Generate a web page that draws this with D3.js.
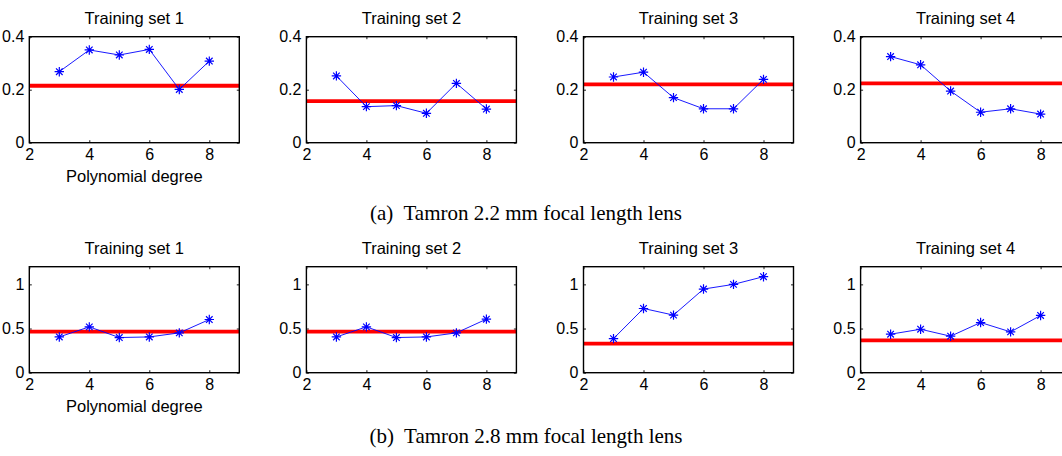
<!DOCTYPE html>
<html>
<head>
<meta charset="utf-8">
<script src="https://cdn.jsdelivr.net/npm/d3@7"></script>
<style>
  body { margin: 0; background: #fff; }
  svg { display: block; }
  .title, .tick text, .xlabel { font-family: "Liberation Sans", Arial, sans-serif; fill: #000; }
  .caption { font-family: "Liberation Serif", "Times New Roman", serif; fill: #000; }
</style>
</head>
<body>
<svg id="chart"></svg>
<script>
var width = 1062;
var height = 456;

// polynomial degrees on the x axis
var degrees = [3, 4, 5, 6, 7, 8];
var xTicks = [2, 4, 6, 8];
var setTitles = ["Training set 1", "Training set 2", "Training set 3", "Training set 4"];

// (a) Tamron 2.2 mm
var lens22Set1 = [0.268, 0.350, 0.331, 0.352, 0.201, 0.308];
var lens22Set2 = [0.252, 0.136, 0.140, 0.111, 0.224, 0.127];
var lens22Set3 = [0.248, 0.266, 0.170, 0.128, 0.128, 0.239];
var lens22Set4 = [0.325, 0.294, 0.195, 0.115, 0.128, 0.108];
var lens22Baseline = [0.215, 0.157, 0.220, 0.224];
var lens22YTicks = [0, 0.2, 0.4];

// (b) Tamron 2.8 mm
var lens28Set1 = [0.405, 0.519, 0.398, 0.405, 0.451, 0.602];
var lens28Set2 = [0.405, 0.519, 0.398, 0.405, 0.451, 0.606];
var lens28Set3 = [0.386, 0.727, 0.652, 0.947, 1.000, 1.087];
var lens28Set4 = [0.436, 0.492, 0.413, 0.568, 0.462, 0.648];
var lens28Baseline = [0.466, 0.466, 0.330, 0.367];
var lens28YTicks = [0, 0.5, 1];

var captions = ["(a)  Tamron 2.2 mm focal length lens", "(b)  Tamron 2.8 mm focal length lens"];

var rows = [
  { sets: [lens22Set1, lens22Set2, lens22Set3, lens22Set4], baseline: lens22Baseline,
    yMax: 0.4, yTicks: lens22YTicks, top: 36.7, captionY: 220 },
  { sets: [lens28Set1, lens28Set2, lens28Set3, lens28Set4], baseline: lens28Baseline,
    yMax: 1.2, yTicks: lens28YTicks, top: 266.7, captionY: 443 }
];

var panelW = 210;
var panelH = 106;
var firstLeft = 29.3;
var step = 277.1;
var tickLen = 2.5;

var svg = d3.select("#chart")
    .attr("width", width)
    .attr("height", height);

var xScale = d3.scaleLinear().domain([2, 9]).range([0, panelW]);

// asterisk marker like matlab '*'
function star(s) {
  var d = s * 0.7;
  return "M" + (-s) + ",0L" + s + ",0M0," + (-s) + "L0," + s +
         "M" + (-d) + "," + (-d) + "L" + d + "," + d +
         "M" + (-d) + "," + d + "L" + d + "," + (-d);
}

rows.forEach(function(row, r) {
  var yScale = d3.scaleLinear().domain([0, row.yMax]).range([panelH, 0]);

  row.sets.forEach(function(values, i) {
    var g = svg.append("g")
        .attr("transform", "translate(" + (firstLeft + i * step) + "," + row.top + ")");

    // axes: labelled bottom/left, bare ticks top/right, all pointing inward
    var bottom = g.append("g")
        .attr("transform", "translate(0," + panelH + ")")
        .call(d3.axisBottom(xScale).tickValues(xTicks).tickSizeInner(-tickLen).tickSizeOuter(0).tickPadding(5.5).tickFormat(d => d));
    var left = g.append("g")
        .call(d3.axisLeft(yScale).tickValues(row.yTicks).tickSizeInner(-tickLen).tickSizeOuter(0).tickPadding(5).tickFormat(d => d));
    var topAx = g.append("g")
        .call(d3.axisTop(xScale).tickValues(xTicks).tickSizeInner(-tickLen).tickSizeOuter(0).tickFormat(""));
    var rightAx = g.append("g")
        .attr("transform", "translate(" + panelW + ",0)")
        .call(d3.axisRight(yScale).tickValues(row.yTicks).tickSizeInner(-tickLen).tickSizeOuter(0).tickFormat(""));

    [bottom, left, topAx, rightAx].forEach(function(a) {
      a.select(".domain").remove();
      a.selectAll(".tick line").attr("stroke", "#000").attr("stroke-width", 0.9);
      a.selectAll(".tick text").attr("font-size", 16).attr("fill", "#000");
    });

    // baseline (red)
    g.append("line")
        .attr("x1", 0)
        .attr("x2", panelW)
        .attr("y1", yScale(row.baseline[i]))
        .attr("y2", yScale(row.baseline[i]))
        .attr("stroke", "#ff0000")
        .attr("stroke-width", 3.8);

    // error curve (blue)
    var line = d3.line()
        .x((d, j) => xScale(degrees[j]))
        .y(d => yScale(d));

    g.append("path")
        .datum(values)
        .attr("d", line)
        .attr("fill", "none")
        .attr("stroke", "#0000ff")
        .attr("stroke-width", 0.9);

    g.selectAll(".marker")
        .data(values)
        .enter()
        .append("path")
          .classed("marker", true)
          .attr("transform", (d, j) => "translate(" + xScale(degrees[j]) + "," + yScale(d) + ")")
          .attr("d", star(4.7))
          .attr("fill", "none")
          .attr("stroke", "#0000ff")
          .attr("stroke-width", 1.2);

    // box
    g.append("rect")
        .attr("width", panelW)
        .attr("height", panelH)
        .attr("fill", "none")
        .attr("stroke", "#000")
        .attr("stroke-width", 1.4);

    g.append("text")
        .classed("title", true)
        .attr("x", panelW / 2)
        .attr("y", -13)
        .attr("text-anchor", "middle")
        .attr("font-size", 16.5)
        .text(setTitles[i]);

    if (i === 0) {
      g.append("text")
          .classed("xlabel", true)
          .attr("x", panelW / 2)
          .attr("y", panelH + 39.5)
          .attr("text-anchor", "middle")
          .attr("font-size", 16.5)
          .text("Polynomial degree");
    }
  });

  svg.append("text")
      .classed("caption", true)
      .attr("x", 526)
      .attr("y", row.captionY)
      .attr("text-anchor", "middle")
      .attr("font-size", 21)
      .style("white-space", "pre")
      .text(captions[r]);
});
</script>
</body>
</html>
